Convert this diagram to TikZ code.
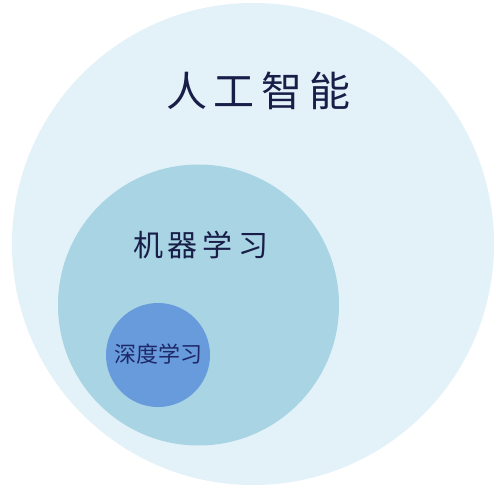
\documentclass[tikz,border=0pt]{standalone}
\usepackage{fontspec}
\newfontfamily\cjk{Noto Sans CJK SC}
\definecolor{bleuA}{RGB}{227,242,249}
\definecolor{bleuB}{RGB}{168,212,228}
\definecolor{bleuC}{RGB}{104,155,219}
\definecolor{texteA}{RGB}{24,30,72}
\definecolor{texteC}{RGB}{30,40,105}
\begin{document}
\begin{tikzpicture}[x=1pt,y=1pt]
			% Styles (MODIFIABLES)
			\tikzstyle{cercle}=[circle,inner sep=0pt]
			\tikzstyle{etiquette}=[inner sep=0pt,text=texteA,font=\cjk]
			% Dimensions (MODIFIABLES)
			\def\Hauteur{488}
			\def\Largeur{500}
			% Cadre
			\useasboundingbox (0,0) rectangle (\Largeur,\Hauteur);
			\fill[white] (0,0) rectangle (\Largeur,\Hauteur);
			% Cercles
			\node[cercle,fill=bleuA,minimum size=482pt] (IA) at (253,{\Hauteur-244}) {};
			\node[cercle,fill=bleuB,minimum size=281pt] (ML) at (198.5,{\Hauteur-305}) {};
			\node[cercle,fill=bleuC,minimum size=104pt] (DL) at (158,{\Hauteur-355}) {};
			% Etiquettes
			\node[etiquette,font=\cjk\fontsize{41}{41}\selectfont] (tIA) at (258.5,{\Hauteur-91}) {人\kern7pt 工\kern7pt 智\kern7pt 能};
			\node[etiquette,font=\cjk\fontsize{30}{30}\selectfont] (tML) at (200.5,{\Hauteur-245}) {机\kern5pt 器\kern5pt 学\kern5pt 习};
			\node[etiquette,text=texteC,font=\cjk\fontsize{22}{22}\selectfont] (tDL) at (158.5,{\Hauteur-354}) {深度学习};
\end{tikzpicture}
\end{document}
